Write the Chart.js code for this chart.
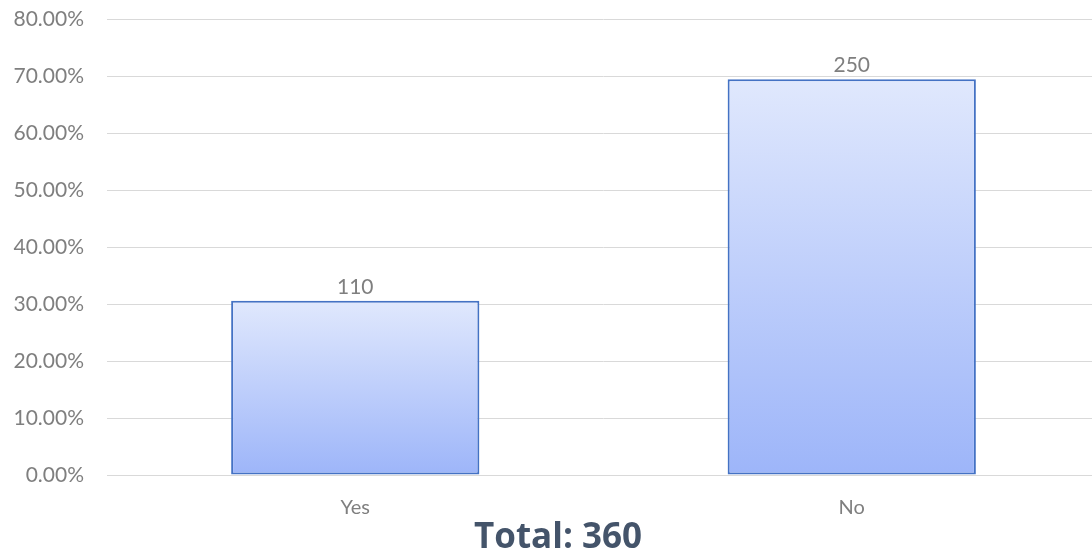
<!DOCTYPE html>
<html>
<head>
<meta charset="utf-8">
<script src="https://cdn.jsdelivr.net/npm/chart.js@4"></script>
<style>
  html, body { margin: 0; padding: 0; background: #fff; overflow: hidden; }
  #wrap { width: 1100px; height: 554px; }
</style>
</head>
<body>
<div id="wrap"><canvas id="c" width="1100" height="554"></canvas></div>
<script>
const categories = ['Yes', 'No'];
const counts = [110, 250];
const total = 360;
const percentValues = counts.map(v => v / total * 100);
const yTickMax = 80;
const yTickStep = 10;
const titleText = 'Total: ' + total;

const FONT = 'Lato, "Open Sans", sans-serif';

const valueLabels = {
  id: 'valueLabels',
  afterDatasetsDraw(chart) {
    const ctx = chart.ctx;
    const meta = chart.getDatasetMeta(0);
    ctx.save();
    ctx.font = '21px ' + FONT;
    ctx.fillStyle = '#7f7f7f';
    ctx.textAlign = 'center';
    ctx.textBaseline = 'alphabetic';
    meta.data.forEach((bar, i) => {
      ctx.fillText(String(counts[i]), bar.x, bar.y - 7);
    });
    ctx.restore();
  }
};

const bottomTitle = {
  id: 'bottomTitle',
  afterDraw(chart) {
    const ctx = chart.ctx;
    ctx.save();
    ctx.font = 'bold 35px "Open Sans", sans-serif';
    ctx.fillStyle = '#44546a';
    ctx.textAlign = 'center';
    ctx.textBaseline = 'alphabetic';
    ctx.fillText(titleText, chart.width / 2 + 8, chart.height - 6);
    ctx.restore();
  }
};

function barGradient(context) {
  const chart = context.chart;
  const area = chart.chartArea;
  if (!area) return '#bccdfb';
  const y = chart.scales.y;
  const v = context.parsed ? context.parsed.y : context.raw;
  const top = y.getPixelForValue(v);
  const bottom = y.getPixelForValue(0);
  const g = chart.ctx.createLinearGradient(0, top, 0, bottom);
  g.addColorStop(0, '#e0e8fd');
  g.addColorStop(1, '#9db5f9');
  return g;
}

new Chart(document.getElementById('c'), {
  type: 'bar',
  data: {
    labels: categories,
    datasets: [{
      data: percentValues,
      backgroundColor: barGradient,
      borderColor: '#4472c4',
      borderWidth: 2,
      borderSkipped: false,
      barPercentage: 0.5,
      categoryPercentage: 1.0
    }]
  },
  options: {
    responsive: false,
    animation: false,
    layout: { padding: { top: 19, left: 0, right: 0, bottom: 0 } },
    plugins: { legend: { display: false }, tooltip: { enabled: false } },
    scales: {
      y: {
        min: 0, max: yTickMax,
        afterFit(scale) { scale.width = 107; scale.paddingTop = 0; scale.paddingBottom = 0; },
        ticks: {
          stepSize: yTickStep,
          color: '#7f7f7f',
          font: { family: FONT, size: 21 },
          padding: 23,
          callback: v => v.toFixed(2) + '%'
        },
        grid: { color: '#d9d9d9', lineWidth: 1, drawTicks: false },
        border: { display: false }
      },
      x: {
        afterFit(scale) { scale.height = 79; scale.paddingLeft = 0; scale.paddingRight = 0; },
        ticks: {
          color: '#7f7f7f',
          font: { family: FONT, size: 20 },
          padding: 21
        },
        grid: { display: false, drawTicks: false },
        border: { display: true, color: '#d9d9d9', width: 1 }
      }
    }
  },
  plugins: [valueLabels, bottomTitle]
});
</script>
</body>
</html>
